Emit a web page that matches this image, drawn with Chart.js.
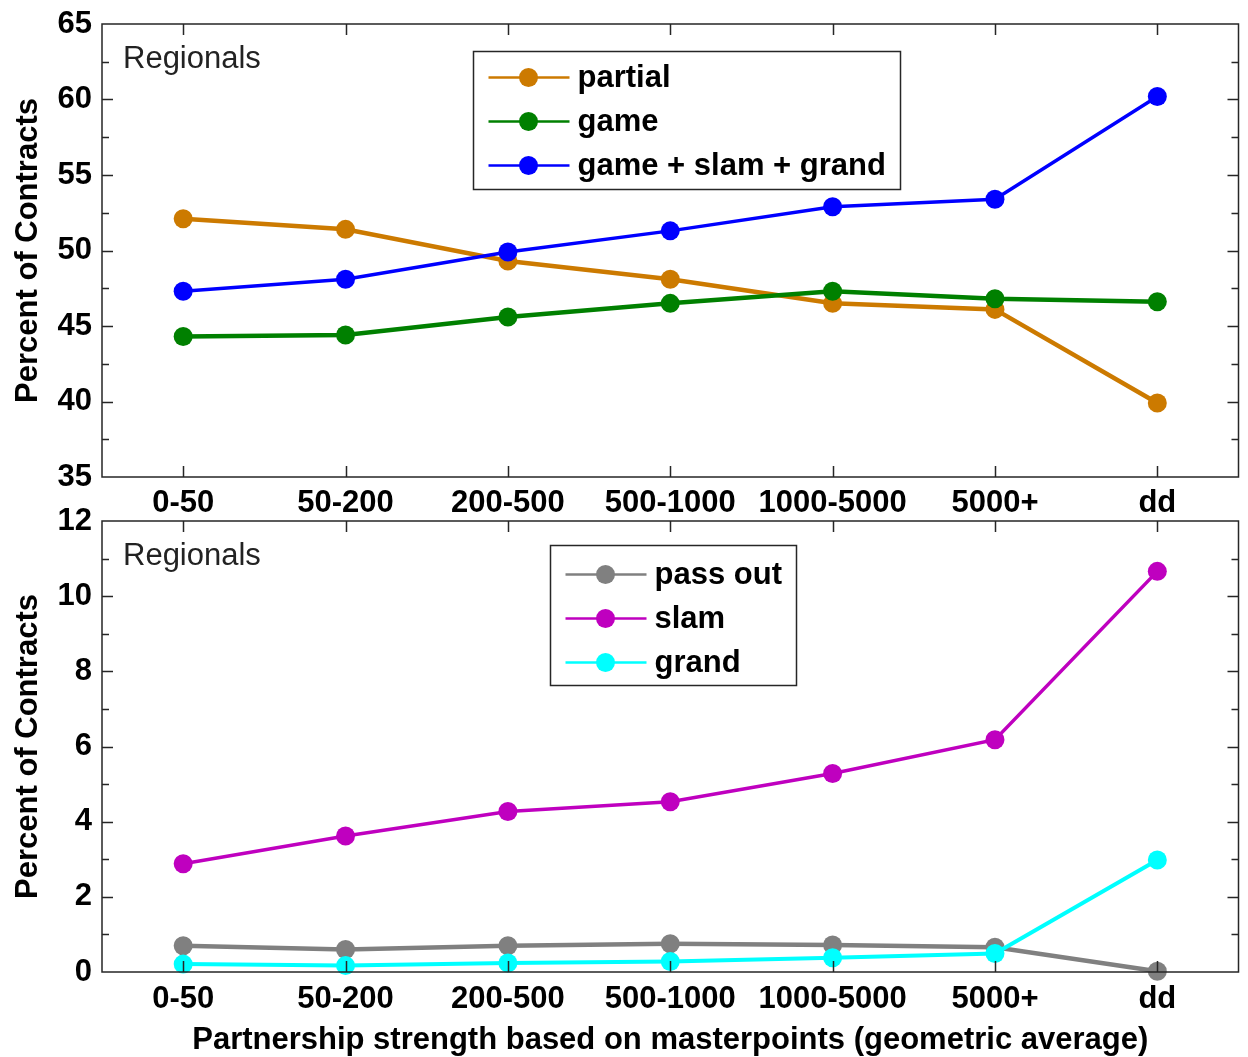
<!DOCTYPE html>
<html><head><meta charset="utf-8">
<script src="https://cdn.jsdelivr.net/npm/chart.js@4.4.1/dist/chart.umd.min.js"></script>
<style>
html,body{margin:0;padding:0;background:#fff;width:1248px;height:1057px;overflow:hidden;position:relative;}
#c1{position:absolute;left:0;top:0;}
#c2{position:absolute;left:0;top:505px;}
</style></head><body>
<canvas id="c1" width="1248" height="522"></canvas>
<canvas id="c2" width="1248" height="555"></canvas>
<script>
// ---- data ----
const categories = ['0-50', '50-200', '200-500', '500-1000', '1000-5000', '5000+', 'dd'];
const partialPct = [52.1, 51.4, 49.3, 48.1, 46.5, 46.1, 39.9];
const gamePct = [44.3, 44.4, 45.6, 46.5, 47.3, 46.8, 46.6];
const gameSlamGrandPct = [47.3, 48.1, 49.9, 51.3, 52.9, 53.4, 60.2];
const passOutPct = [0.70, 0.60, 0.70, 0.75, 0.72, 0.66, 0.02];
const slamPct = [2.88, 3.62, 4.27, 4.53, 5.28, 6.18, 10.66];
const grandPct = [0.21, 0.17, 0.24, 0.28, 0.38, 0.49, 2.98];
const topTicks = {min: 35, max: 65, step: 5};
const bottomTicks = {min: 0, max: 12, step: 2};

const FONT = "'Liberation Sans', Arial, Helvetica, sans-serif";
const FS = 31;

const axesPlugin = {
  id: 'matlabAxes',
  afterDatasetsDraw(chart, args, o) {
    const {ctx, chartArea: a} = chart;
    const x = chart.scales.x, y = chart.scales.y;
    ctx.save();
    ctx.strokeStyle = '#262626';
    ctx.lineWidth = 1.5;
    ctx.beginPath();
    x.ticks.forEach((t, i) => {
      const px = Math.round(x.getPixelForTick(i)) + 0.5;
      ctx.moveTo(px, a.bottom); ctx.lineTo(px, a.bottom - 11);
      ctx.moveTo(px, a.top); ctx.lineTo(px, a.top + 11);
    });
    y.ticks.forEach((t) => {
      const v = t.value;
      if (v === y.min || v === y.max) return;
      const py = Math.round(y.getPixelForValue(v)) + 0.5;
      ctx.moveTo(a.left, py); ctx.lineTo(a.left + 11, py);
      ctx.moveTo(a.right, py); ctx.lineTo(a.right - 11, py);
    });
    for (let i = 0; i < y.ticks.length - 1; i++) {
      const v = (y.ticks[i].value + y.ticks[i + 1].value) / 2;
      const py = Math.round(y.getPixelForValue(v)) + 0.5;
      ctx.moveTo(a.left, py); ctx.lineTo(a.left + 7, py);
      ctx.moveTo(a.right, py); ctx.lineTo(a.right - 7, py);
    }
    ctx.stroke();
    ctx.strokeRect(a.left, a.top, a.width, a.height);

    // annotation text
    ctx.fillStyle = '#222';
    ctx.font = `${FS}px ${FONT}`;
    ctx.textBaseline = 'alphabetic';
    ctx.textAlign = 'left';
    ctx.fillText(o.note, a.left + 21, a.top + 44);

    // legend
    const ds = chart.data.datasets;
    ctx.font = `bold ${FS}px ${FONT}`;
    const maxW = Math.max(...ds.map(d => ctx.measureText(d.label).width));
    const bx = Math.round(a.left + o.legendX) + 0.5, by = Math.round(a.top + o.legendY) + 0.5;
    const bw = Math.round(104 + maxW + 15), bh = o.legendH;
    ctx.fillStyle = '#fff';
    ctx.fillRect(bx, by, bw, bh);
    ctx.strokeStyle = '#262626';
    ctx.lineWidth = 1.5;
    ctx.strokeRect(bx, by, bw, bh);
    ds.forEach((d, i) => {
      const ry = by + o.rowStart + i * o.rowGap;
      ctx.strokeStyle = d.borderColor;
      ctx.lineWidth = 2.5;
      ctx.beginPath(); ctx.moveTo(bx + 15, ry); ctx.lineTo(bx + 96, ry); ctx.stroke();
      ctx.fillStyle = d.borderColor;
      ctx.beginPath(); ctx.arc(bx + 55, ry, 9.5, 0, Math.PI * 2); ctx.fill();
      ctx.fillStyle = '#000';
      ctx.textBaseline = 'middle';
      ctx.fillText(d.label, bx + 104, ry + 1);
    });
    ctx.restore();
  }
};

function ds(label, data, color, width, order) {
  return {
    label, data, borderColor: color, backgroundColor: color,
    borderWidth: width, pointRadius: 9.5, pointHoverRadius: 9.5,
    pointBackgroundColor: color, pointBorderColor: color, pointBorderWidth: 0,
    order, tension: 0, clip: false
  };
}

function makeOptions(cfg) {
  return {
    responsive: false, animation: false, events: [],
    layout: {padding: {left: 0, right: 8, top: cfg.padTop, bottom: 0}},
    plugins: {
      legend: {display: false}, tooltip: {enabled: false},
      matlabAxes: cfg.axes
    },
    scales: {
      x: {
        type: 'category', offset: true,
        grid: {display: false, drawTicks: false}, border: {display: false},
        ticks: {color: '#000', font: {family: FONT, size: FS, weight: 'bold'}, padding: cfg.xPad, maxRotation: 0, autoSkip: false},
        title: cfg.xTitle,
        afterFit: s => { s.height = cfg.xHeight; s.paddingLeft = 0; s.paddingRight = 0; }
      },
      y: {
        min: cfg.ticks.min, max: cfg.ticks.max,
        grid: {display: false, drawTicks: false}, border: {display: false},
        ticks: {stepSize: cfg.ticks.step, color: '#000', font: {family: FONT, size: FS, weight: 'bold'}, padding: 10},
        title: {display: true, text: 'Percent of Contracts', color: '#000', font: {family: FONT, size: FS, weight: 'bold', lineHeight: 1.2}, padding: {top: 10, bottom: 0}},
        afterFit: s => { s.width = 102; s.paddingTop = 0; s.paddingBottom = 0; }
      }
    }
  };
}

new Chart(document.getElementById('c1'), {
  type: 'line',
  data: {
    labels: categories,
    datasets: [
      ds('partial', partialPct, '#CC7A00', 4.5, 3),
      ds('game', gamePct, '#008000', 4.5, 2),
      ds('game + slam + grand', gameSlamGrandPct, '#0000FF', 3.5, 1)
    ]
  },
  options: makeOptions({
    padTop: 24, xPad: 8, xHeight: 45, ticks: topTicks,
    xTitle: {display: false},
    axes: {note: 'Regionals', legendX: 371, legendY: 27, legendH: 138, rowStart: 26, rowGap: 44}
  }),
  plugins: [axesPlugin]
});

new Chart(document.getElementById('c2'), {
  type: 'line',
  data: {
    labels: categories,
    datasets: [
      ds('pass out', passOutPct, '#808080', 4.5, 3),
      ds('slam', slamPct, '#BF00BF', 3.5, 2),
      ds('grand', grandPct, '#00FFFF', 4, 1)
    ]
  },
  options: makeOptions({
    padTop: 16, xPad: 9, xHeight: 88, ticks: bottomTicks,
    xTitle: {display: true, text: 'Partnership strength based on masterpoints (geometric average)', color: '#000',
      font: {family: FONT, size: FS, weight: 'bold', lineHeight: 1}, padding: {top: 0, bottom: 4.5}},
    axes: {note: 'Regionals', legendX: 448, legendY: 24, legendH: 140, rowStart: 29, rowGap: 44}
  }),
  plugins: [axesPlugin]
});
</script>
</body></html>
